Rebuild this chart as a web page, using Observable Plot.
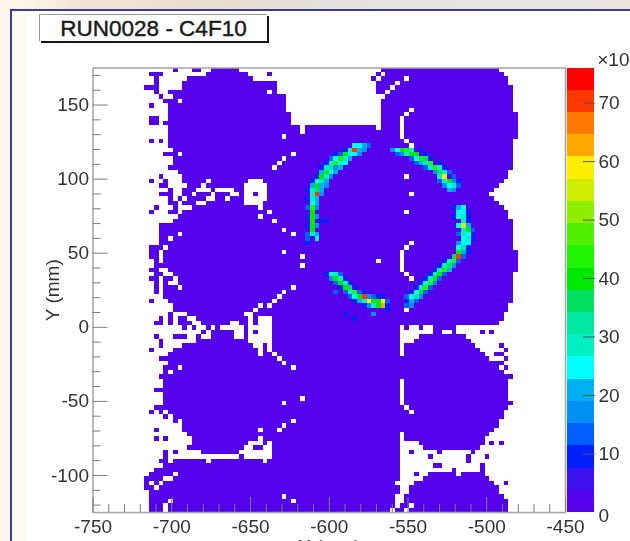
<!DOCTYPE html>
<html><head><meta charset="utf-8">
<script src="https://cdn.jsdelivr.net/npm/d3@7"></script>
<script src="https://cdn.jsdelivr.net/npm/@observablehq/plot@0.6"></script>
<style>
html,body{margin:0;padding:0;width:630px;height:541px;overflow:hidden;background:#fbf6e8;font-family:"Liberation Sans",Arial,sans-serif}
#band{position:absolute;left:0;top:0;width:630px;height:9px;background:linear-gradient(90deg,#fbf6e8 0,#fbf6e8 26px,#f3e6d6 80px,#e6dccb 230px,#e4e2de 330px,#ece8e0 630px)}
#panel{position:absolute;left:10px;top:9px;width:620px;height:532px;box-sizing:border-box;border-left:2px solid #3b3b9e;border-top:2px solid #3b3b9e;background:linear-gradient(90deg,#fdfbf3 0,#fdfbf3 14px,#fff 15px)}
#title{position:absolute;left:39px;top:14px;width:228px;height:27px;box-sizing:border-box;background:#fff;border-left:1px solid #999;border-top:1px solid #999;box-shadow:2px 2px 0 #151515;font-size:22.5px;line-height:27px;text-align:center;color:#1a1a1a;-webkit-text-stroke:.45px #1a1a1a}
#main,#bar{position:absolute;top:0;filter:blur(.45px)}
#main{left:0}#bar{left:566px}
</style></head>
<body>
<div id="band"></div><div id="panel"></div>
<div id="title">RUN0028 - C4F10</div>
<div id="main"></div><div id="bar"></div>
<script>
// Columns of occupied bins in each row of the 100x100 histogram, top row first.
const occupiedRows = [
"17 21-22 25-30 61-85","12-14 24-32 37 60 62-86","13 20-33 59 61-65 67-87","13 19-38 60-63 65-87","11-13 19-38 60-62 64-88",
"13 16-36 38 60-61 63-88","14 17-40 62-88","15-17 19-40 61-88","12 16-40 61-88","16-40 61-66 68-88",
"16-41 61-65 67-89","12-13 16-41 61-64 66-89","12-13 15-41 61-64 66-89","16-43 45-59 61-64 66-89","16-43 45-64 66-89",
"16-39 41-64 66-89","12 14 16-65 67-88","16-66 68-88","17-88","15-17 19-41 43-88",
"17-39 41-88","17-38 40-88","16-37 39-88","18-87","14 19-65 67-87",
"12 15 19-23 25-32 36-86","14-15 20-22 24-31 37-85","16 19-21 25 30-31 37-84","14-16 19-20 22-24 26-28 31 34 37-66 68-83","16 18 20-23 26-27 29-31 37-84",
"16-17 19-21 24-31 36-85","13 17 21-34 36-86","12 16-17 19-36 38-65 67-87","18-34 36-87","17-37 39-88",
"14-88","14-39 41-88","14-17 19-41 43-88","14-15 17-88","14-66 68-88",
"12-14 16-65 67-88","12-13 15-39 41-64 66-89","12-13 15-43 45-64 66-89","13 15-59 61-64 66-89","13-43 45-64 66-89",
"12-13 16-64 66-89","13-14 17-65 67-88","12-13 15-16 18-66 68-88","13 15 18-88","13 15-17 19-41 43-88",
"13 15-39 41-88","15-38 40-88","12 16-37 39-88","17-34 36 38-87","17-33 35-65 67-87",
"16 20-31 34-86","14 16 18-19 22-32 34 38-86","13-14 16 18-20 23-24 25-28 31-32 34 38-85","19 21 24 26 32 38-64 66 69 72-76","23 25-29 32 34 38-64 72-73 76 82 84",
"13 17-19 22 25-29 32 38-64 69-78","14 22-32 38-64 68-79","14 19-33 36 38-64 66-80 86","12 17-34 36 38-64 66-81 87","16-34 36-37 39-64 66-82 85-86",
"14-38 40-83 87","16-39 41-86","15-17 19-41 43-85 87","15 17-86","14-88",
"15-64 66-87","15-64 66-87","13-64 66-87","15-64 66-87","15-43 45-64 66-87",
"15-39 41-64 66-88","13-65 67-87","12 14 16-66 68-86","15 17-86","17 19-41 43-85",
"19-39 41-85","13 19-34 36-38 40-84","20-64 66-83","13 15 21-34 36-64 66-82","21-32 36 38-64 69-82 84 86",
"20-31 34-35 38-64 70-81","15 17 23-30 38-64 67 73 80","15 31 38-64 71 79 83","14-15 17-23 25-35 37-64 79","15-64 72-73 82",
"13-64 76 82","12-16 18-64 68 71-76 78-82","11-14 17-64 70-83","11 13 15-63 68-84 87","11-12 14-64 67-85",
"12-64 67-85","12-39 41-63 66-86","12-15 17-41 43-63 66-87","12-14 16-63 65-66 68-87","12-14 16-62 64-65 67-87"
];
const backgroundCount = 10;
// Bins of the four Cherenkov arcs: column, row, content.
const arcColumns = [
57,56,55,56,55,54,54,53,53,52,51,52,51,50,50,49,50,49,48,49,48,48,47,48,47,46,47,46,47,46,46,47,46,45,46,46,46,46,46,46,47,46,47,45,45,48,49,
64,65,66,67,66,67,68,68,69,70,70,71,71,72,73,73,74,74,73,74,75,75,76,77,
77,78,77,78,77,78,78,78,77,78,79,79,78,78,79,78,79,78,77,77,78,77,76,76,75,75,74,74,73,73,72,72,71,71,70,70,69,69,68,68,67,67,
50,51,51,52,52,53,53,54,54,55,56,55,57,57,58,59,60,61,61,60,59,62,59,53,55,51];
const arcRows = [
17,17,17,18,18,18,19,19,20,20,20,21,21,21,22,22,23,23,23,24,24,25,25,26,26,26,27,27,28,28,29,29,30,31,31,32,33,34,35,36,37,37,38,38,39,34,34,
18,18,18,18,19,19,19,20,20,20,21,21,22,22,22,23,23,24,24,25,25,26,26,26,
31,31,32,32,33,33,34,35,35,36,36,37,37,38,38,39,39,40,40,41,41,42,42,43,43,44,44,45,45,46,46,47,47,48,48,49,49,50,50,51,51,52,
46,46,47,47,48,48,49,49,50,50,51,51,51,52,52,52,52,52,53,53,53,53,55,55,56,50];
const arcCounts = [
200,250,260,200,720,300,250,400,300,420,260,250,440,270,320,280,250,400,200,300,380,300,260,200,400,200,350,300,720,300,280,200,260,120,420,400,400,400,400,400,200,280,250,130,100,90,90,
250,380,420,300,300,400,380,260,420,350,300,420,300,420,300,350,300,580,300,300,380,260,300,150,
200,250,260,260,260,280,300,560,250,280,400,260,300,260,300,250,260,340,240,400,200,720,350,420,300,350,300,420,280,400,300,400,300,420,260,420,300,380,260,320,260,200,
250,300,380,300,400,280,400,350,300,420,400,260,720,280,580,400,380,600,620,400,300,100,160,90,80,120];
// Faint bins along the arcs: column, row, content.
const arcFringe = [
[58,17,130],[57,18,180],[56,19,170],[55,19,230],[54,20,200],[53,21,240],[52,22,190],[51,22,170],[51,23,190],[50,24,160],[49,25,200],[49,26,170],[48,27,190],[48,28,160],[47,30,200],[47,31,170],[47,33,160],[47,35,160],[45,33,100],[45,35,110],[45,37,130],[53,18,100],[52,19,130],[51,19,90],[50,20,120],[49,21,100],[48,22,110],[47,24,100],[46,25,110],[45,27,90],[45,29,90],
[63,18,170],[64,19,130],[65,19,180],[67,20,150],[68,21,120],[69,21,190],[70,22,130],[72,23,170],[73,25,120],[74,26,170],[76,27,180],[75,27,200],[69,18,90],[70,19,110],[71,20,100],[73,21,90],[74,22,110],[75,23,130],[76,24,120],[76,25,170],[77,25,100],
[76,31,100],[79,32,110],[79,33,100],[79,34,90],[76,33,90],[79,35,190],[80,36,120],[80,37,100],[80,38,110],[77,37,130],[77,39,170],[79,40,110],[79,41,100],[78,42,130],[77,43,140],[76,44,170],[75,45,190],[74,46,150],[73,47,130],[72,48,170],[71,49,150],[70,50,140],[69,51,170],[68,52,150],[66,52,100],[66,53,130],[67,53,180],[74,43,100],[73,44,90],[72,45,100],[71,46,100],[70,47,90],[69,48,110],[68,49,90],[67,50,100],[66,51,120],
[49,46,110],[50,47,170],[51,48,130],[52,49,110],[53,50,150],[54,51,120],[56,52,190],[55,52,100],[52,46,120],[53,47,100],[54,48,110],[55,49,100],[56,50,130],[57,50,100],[58,51,170],[59,51,120],[60,51,100],[61,51,110],[62,52,130],[62,54,90],[57,53,110],[58,53,170]
];

const binWidth = 3, xStart = -750, yTop = 175;
const levelThresholds = [38,76,114,152,190,228,266,304,342,380,418,456,494,532,570,608,646,684,722];
const paletteColors = ["#5400ea","#3a10ee","#0020ff","#0060ff","#0090f4","#00b0ee","#00ffff","#00f0c4","#00e8a0","#00e060","#00e800","#20f400","#50f000","#90ee00","#d0ee00","#ffee00","#ffa800","#ff7800","#ff3800","#ff0000"];
const barTop = 760;
const xTicks = [-750,-700,-650,-600,-550,-500,-450];
const xMinor = d3.range(-750,-449,10).filter(d => !xTicks.includes(d));
const yTicks = [-100,-50,0,50,100,150];
const yMinor = d3.range(-120,171,10).filter(d => !yTicks.includes(d));
const barTicks = [100,200,300,400,500,600,700];

const bin = (col,row,value) => ({x1:xStart+binWidth*col,x2:xStart+binWidth*(col+1),y2:yTop-binWidth*row,y1:yTop-binWidth*(row+1),value});
const cells = occupiedRows.flatMap((spans,row) => spans.split(" ").flatMap(s => {
  const [a,b=a] = s.split("-").map(Number);
  return d3.range(a,b+1).map(col => bin(col,row,backgroundCount));
}));
const fringeCells = arcFringe.map(([c,r,v]) => bin(c,r,v));
const arcCells = arcColumns.map((c,i) => bin(c,arcRows[i],arcCounts[i]));
const colorOptions = {type:"threshold",domain:levelThresholds,range:paletteColors};
const ink = "#333", tickInk = "#7d7d7d";
const cellMark = data => Plot.rect(data,{x1:"x1",x2:"x2",y1:"y1",y2:"y2",fill:"value",shapeRendering:"crispEdges"});

const main = Plot.plot({
  width:630,height:560,marginLeft:92.5,marginRight:65,marginTop:67.5,marginBottom:48,
  style:{background:"transparent",fontFamily:"'Liberation Sans',Arial,sans-serif",fontSize:"19px",color:ink},
  x:{domain:[-750,-450]},y:{domain:[-125,175]},color:colorOptions,
  marks:[
    cellMark(cells),cellMark(fringeCells),cellMark(arcCells),
    Plot.frame({stroke:"#a4a4a4",strokeWidth:1.5}),
    Plot.axisX({ticks:xMinor,tickSize:-8,tickFormat:()=>"",label:null,stroke:tickInk}),
    Plot.axisY({ticks:yMinor,tickSize:-8,tickFormat:()=>"",label:null,stroke:tickInk}),
    Plot.axisX({ticks:xTicks,tickSize:-15,tickPadding:22,tickFormat:d=>String(d),label:"X (mm)",labelAnchor:"center",labelOffset:40,labelArrow:"none",stroke:tickInk,fill:ink}),
    Plot.axisY({ticks:yTicks,tickSize:-15,tickPadding:19,tickFormat:d=>String(d),label:"Y (mm)",labelAnchor:"center",labelOffset:48,labelArrow:"none",stroke:tickInk,fill:ink})
  ]
});
document.getElementById("main").append(main);

const barBins = paletteColors.map((c,i) => ({low:i?levelThresholds[i-1]:0,high:i<levelThresholds.length?levelThresholds[i]:barTop,mid:(i?levelThresholds[i-1]:0)+1}));
const bar = Plot.plot({
  width:64,height:560,marginLeft:1,marginRight:36,marginTop:67.5,marginBottom:48,
  style:{background:"transparent",fontFamily:"'Liberation Sans',Arial,sans-serif",fontSize:"19px",color:ink,overflow:"visible"},
  x:{domain:[0,1],axis:null},y:{domain:[0,barTop],axis:null},color:colorOptions,
  marks:[
    Plot.rect(barBins,{x1:0,x2:1,y1:"low",y2:"high",fill:"mid",shapeRendering:"crispEdges"}),
    Plot.axisY({anchor:"right",ticks:barTicks,tickSize:-12,tickPadding:16,tickFormat:d=>d/10,label:null,stroke:"#555",fill:ink}),
    Plot.axisY({anchor:"right",ticks:[0],tickSize:0,tickPadding:4,tickFormat:d=>d/10,dy:3,label:null,fill:ink}),
    Plot.text(["×10"],{frameAnchor:"top-right",dx:35,dy:-16,textAnchor:"end",fontSize:19,fill:ink})
  ]
});
document.getElementById("bar").append(bar);
</script>
</body></html>
